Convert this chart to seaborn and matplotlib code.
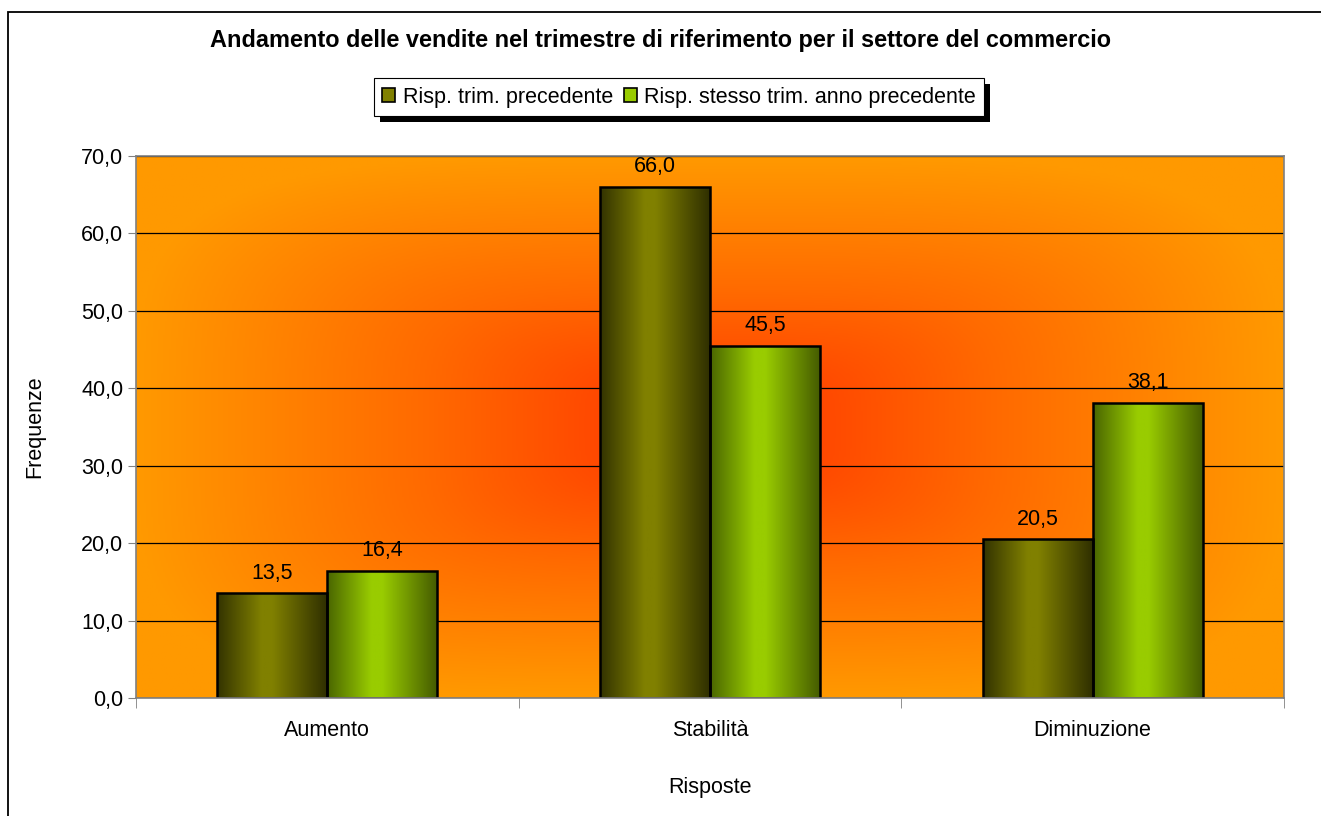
import matplotlib
matplotlib.use("Agg")
import matplotlib.pyplot as plt
import numpy as np
import pandas as pd
import seaborn as sns
from matplotlib.colors import LinearSegmentedColormap
from matplotlib.patches import Patch, Rectangle
from matplotlib.ticker import FixedLocator, FuncFormatter

categories = ["Aumento", "Stabilità", "Diminuzione"]
series = ["Risp. trim. precedente", "Risp. stesso trim. anno precedente"]
prev_quarter = [13.5, 66.0, 20.5]
prev_year = [16.4, 45.5, 38.1]

title = "Andamento delle vendite nel trimestre di riferimento per il settore del commercio"

df = pd.DataFrame({
    "Risposte": categories * 2,
    "Serie": [series[0]] * 3 + [series[1]] * 3,
    "Frequenze": prev_quarter + prev_year,
})

sns.set_style("white")
plt.rcParams["font.family"] = ["Liberation Sans", "DejaVu Sans"]
plt.rcParams.update({"text.color": "black", "axes.labelcolor": "black",
                     "xtick.labelcolor": "black", "ytick.labelcolor": "black"})
FS = 15.5

fig = plt.figure(figsize=(13.21, 8.16), dpi=100)
ax = fig.add_axes([136 / 1321, 118 / 816, 1148 / 1321, 542 / 816])

base = {series[0]: "#808000", series[1]: "#99cc00"}
sns.barplot(data=df, x="Risposte", y="Frequenze", hue="Serie", hue_order=series,
            palette=base, width=0.575, legend=False, ax=ax, zorder=3)

# background: rectangular "from center" gradient, red in the middle
ny, nx = 300, 600
u = np.linspace(-1, 1, nx)
v = np.linspace(-1, 1, ny)
U, V = np.meshgrid(u, v)
t = np.clip((np.abs(U) ** 4 + np.abs(V) ** 4) ** 0.25, 0, 1)
bg_cmap = LinearSegmentedColormap.from_list("bg", ["#ff3300", "#ff6a00", "#ff9900"])
ax.imshow(t, cmap=bg_cmap, vmin=0, vmax=1, extent=[-0.5, 2.5, 0, 70],
          aspect="auto", origin="lower", zorder=0)

# bar gradients, dark edges with a light band
grads = {
    series[0]: ["#333300", "#808000", "#808000", "#2e2e00"],
    series[1]: ["#4a6600", "#99cc00", "#99cc00", "#445a00"],
}
strip = np.linspace(0, 1, 200).reshape(1, -1)
for cont, name in zip(ax.containers, series):
    cmap = LinearSegmentedColormap.from_list(
        name, list(zip([0, 0.4, 0.5, 1], grads[name])))
    for p in cont:
        x0, w, h = p.get_x(), p.get_width(), p.get_height()
        im = ax.imshow(strip, cmap=cmap, extent=[x0, x0 + w, 0, h],
                       aspect="auto", zorder=3.5)
        im.set_clip_path(p)
        p.set_facecolor("none")
        p.set_edgecolor("black")
        p.set_linewidth(1.8)
        p.set_zorder(4)
    ax.bar_label(cont, labels=[f"{b.get_height():.1f}".replace(".", ",") for b in cont],
                 padding=7, fontsize=FS, zorder=5)

ax.set_xlim(-0.5, 2.5)
ax.set_ylim(0, 70)
ax.set_yticks(np.arange(0, 71, 10))
ax.yaxis.set_major_formatter(FuncFormatter(lambda y, _: f"{y:.1f}".replace(".", ",")))
ax.grid(axis="y", color="black", linewidth=0.9, zorder=1)
ax.set_axisbelow(False)
for line in ax.get_ygridlines():
    line.set_zorder(1)

ax.xaxis.set_minor_locator(FixedLocator([-0.5, 0.5, 1.5, 2.5]))
ax.tick_params(axis="x", which="major", length=0, labelsize=FS, pad=16)
ax.tick_params(axis="x", which="minor", length=7, color="#808080", direction="out")
ax.tick_params(axis="y", length=6, color="#808080", direction="out", labelsize=FS, pad=3)
ax.tick_params(bottom=True, left=True, which="both")
for s in ax.spines.values():
    s.set_color("#808080")
    s.set_linewidth(1.2)
    s.set_zorder(6)

ax.set_xlabel("Risposte", fontsize=FS)
ax.set_ylabel("Frequenze", fontsize=FS)
ax.xaxis.set_label_coords(0.5, (698 - 787) / 542, transform=ax.transAxes)
ax.yaxis.set_label_coords((35 - 136) / 1148, 0.5, transform=ax.transAxes)
ax.xaxis.label.set_va("center")
ax.yaxis.label.set_va("center")

fig.text(0.5, 1 - 40 / 816, title, ha="center", va="center", fontsize=16.9, fontweight="bold")

handles = [Patch(facecolor=base[s], edgecolor="black", linewidth=1.2) for s in series]
leg = fig.legend(handles, series, loc="center", bbox_to_anchor=(679 / 1321, 1 - 97 / 816),
                 ncol=2, fontsize=FS, frameon=True, fancybox=False, shadow=False,
                 handlelength=0.6, handleheight=0.6, handletextpad=0.35, columnspacing=0.5,
                 borderpad=0.4, borderaxespad=0, edgecolor="black", framealpha=1)
leg.get_frame().set_linewidth(0.8)
leg.set_zorder(3)

fig.canvas.draw()
bb = leg.get_window_extent().transformed(fig.transFigure.inverted())
fig.add_artist(Rectangle((bb.x0 + 6 / 1321, bb.y0 - 6 / 816), bb.width, bb.height,
                         transform=fig.transFigure, facecolor="black", edgecolor="none",
                         zorder=2))

# chart border
fig.add_artist(Rectangle((8 / 1321, -0.01), 1.1, 1 - 12 / 816 + 0.01,
                         transform=fig.transFigure, facecolor="none",
                         edgecolor="black", linewidth=1.3, zorder=0))

fig.savefig("out.png", dpi=100)
